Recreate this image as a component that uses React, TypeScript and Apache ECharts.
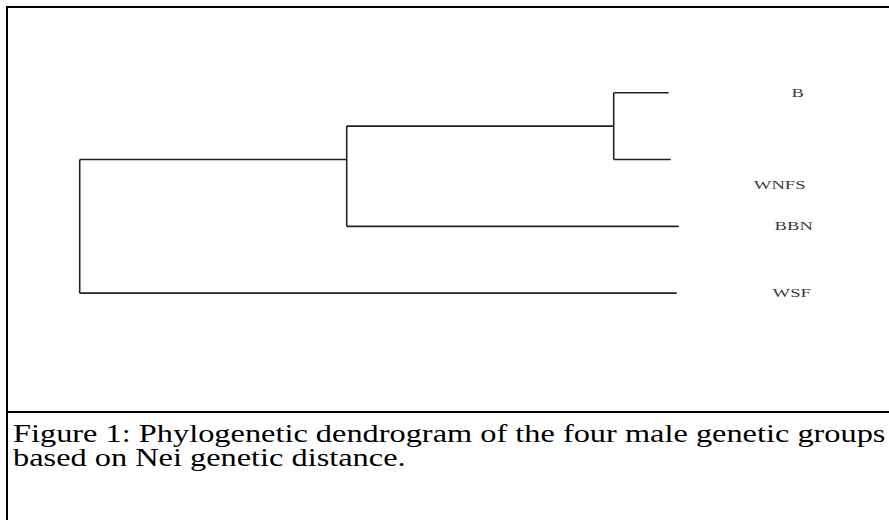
import React, { useEffect, useRef } from "react";
import * as echarts from "echarts";

// Leaves (top to bottom) and their branch-tip distances
const leaves = ["B", "WNFS", "BBN", "WSF"];
const leafEnd = [5.89, 5.91, 5.99, 5.97];
// Merges: [childA, childB, height]; ids >= leaves.length are earlier merges
const merges: [number, number, number][] = [
  [0, 1, 5.34],
  [4, 2, 2.67],
  [5, 3, 0.0],
];
// Label anchor positions (same units as the tree)
const labelX = [7.18, 7.0, 7.14, 7.12];
const labelY = [0.0, 1.38, 1.99, 2.99];

const captionLines = [
  "Figure 1: Phylogenetic dendrogram of the four male genetic groups",
  "based on Nei genetic distance.",
];

function buildSegments() {
  const nx: number[] = [...leafEnd];
  const lo: number[] = leaves.map((_, i) => i);
  const hi: number[] = leaves.map((_, i) => i);
  const ny: number[] = leaves.map((_, i) => i);
  const segs: number[][] = [];
  merges.forEach(([a, b, h]) => {
    const id = nx.length;
    segs.push([h, ny[a], h, ny[b]]);
    segs.push([h, ny[a], nx[a], ny[a]]);
    segs.push([h, ny[b], nx[b], ny[b]]);
    nx[id] = h;
    lo[id] = Math.min(lo[a], lo[b]);
    hi[id] = Math.max(hi[a], hi[b]);
    ny[id] = (lo[id] + hi[id]) / 2;
  });
  return segs;
}

export default function App() {
  const ref = useRef<HTMLDivElement>(null);
  useEffect(() => {
    if (!ref.current) return;
    const chart = echarts.init(ref.current, undefined, { renderer: "svg" });
    const segs = buildSegments();
    const labelData = leaves.map((n, i) => [labelX[i], labelY[i]]);
    chart.setOption({
      animation: false,
      backgroundColor: "#ffffff",
      grid: { left: 0, right: 0, top: 0, bottom: 0 },
      xAxis: { type: "value", min: -0.797, max: 8.093, show: false },
      yAxis: { type: "value", inverse: true, min: -1.388, max: 6.396, show: false },
      series: [
        {
          type: "custom",
          data: segs,
          renderItem: (params: any, api: any) => {
            const p1 = api.coord([api.value(0), api.value(1)]);
            const p2 = api.coord([api.value(2), api.value(3)]);
            return {
              type: "line",
              shape: { x1: p1[0], y1: p1[1], x2: p2[0], y2: p2[1] },
              style: { stroke: "#222", lineWidth: 1.6 },
            };
          },
        },
        {
          type: "custom",
          data: labelData,
          renderItem: (params: any, api: any) => {
            const p = api.coord([api.value(0), api.value(1)]);
            return {
              type: "text",
              x: p[0],
              y: p[1],
              scaleX: 1.55,
              style: {
                text: leaves[params.dataIndex],
                fontFamily: "Liberation Serif",
                fontSize: 12,
                fill: "#3a3a3a",
                align: "center",
                verticalAlign: "middle",
              },
            };
          },
        },
      ],
      graphic: [
        { type: "line", shape: { x1: 7, y1: 7, x2: 889, y2: 7 }, style: { stroke: "#000", lineWidth: 2 } },
        { type: "line", shape: { x1: 7, y1: 6, x2: 7, y2: 520 }, style: { stroke: "#000", lineWidth: 2 } },
        { type: "line", shape: { x1: 6, y1: 412, x2: 889, y2: 412 }, style: { stroke: "#000", lineWidth: 2 } },
        ...captionLines.map((t, i) => ({
          type: "text",
          x: 13,
          y: 433.5 + i * 23.5,
          scaleX: 1.295,
          style: {
            text: t,
            fontFamily: "Liberation Serif",
            fontSize: 25,
            fill: "#000",
            align: "left",
            verticalAlign: "middle",
          },
        })),
      ],
    });
    return () => chart.dispose();
  }, []);
  return (
    <div
      ref={ref}
      style={{ position: "absolute", left: 0, top: 0, width: 889, height: 520 }}
    />
  );
}
